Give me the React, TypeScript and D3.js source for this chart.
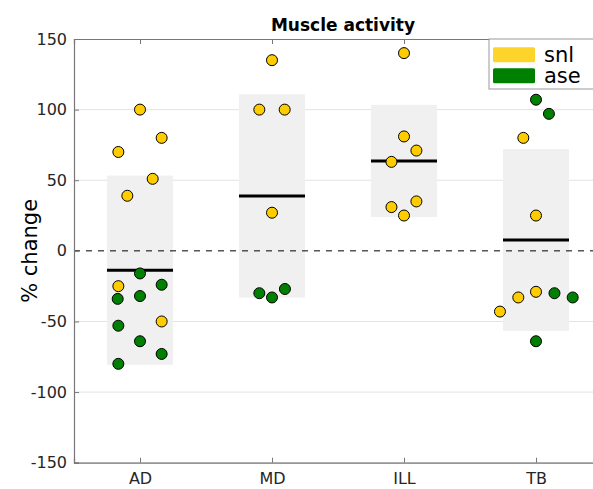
import React, { useEffect, useRef } from 'react';
import * as d3 from 'd3';

// muscles on the x axis
const categories = ['AD', 'MD', 'ILL', 'TB'];

// group mean and spread (box = mean +/- sd)
const means = [-13.7, 38.9, 63.7, 7.7];
const sds = [67, 72, 39.7, 64.4];

// individual subjects, per muscle
const snlValues = [
  [100, 80, 70, 51, 39, -25, -50],
  [135, 100, 100, 27],
  [140, 81, 71, 63, 35, 31, 25],
  [80, 25, -29, -33, -43],
];
const snlJitter = [
  [0, 0.164, -0.164, 0.096, -0.096, -0.164, 0.164],
  [0, -0.096, 0.096, 0],
  [0, 0, 0.094, -0.095, 0.094, -0.095, 0],
  [-0.096, 0, 0, -0.134, -0.273],
];
const aseValues = [
  [-16, -24, -34, -32, -53, -64, -73, -80],
  [-30, -33, -27],
  [],
  [107, 97, -30, -33, -64],
];
const aseJitter = [
  [0, 0.164, -0.169, 0, -0.164, 0, 0.164, -0.164],
  [-0.096, 0, 0.098],
  [],
  [0, 0.098, 0.14, 0.278, 0],
];

const seriesNames = ['snl', 'ase'];
const yTicks = [-150, -100, -50, 0, 50, 100, 150];

function App() {
  const ref = useRef<SVGSVGElement>(null);

  useEffect(() => {
    const width = 593, height = 489;
    const left = 74, top = 39, right = 602, bottom = 462.7;
    const font = 'DejaVu Sans, Verdana, sans-serif';

    const svg = d3.select(ref.current);
    svg.selectAll('*').remove();

    const x = d3.scaleLinear().domain([0.5, 4.5]).range([left, right]);
    const y = d3.scaleLinear().domain([-150, 150]).range([bottom, top]);
    const color = d3.scaleOrdinal<string>().domain(seriesNames).range(['#ffcc00', '#008000']);

    // grid
    svg.append('g')
      .selectAll('line')
      .data(yTicks.filter(t => t !== 0 && t !== 150))
      .enter().append('line')
      .attr('x1', left).attr('x2', right)
      .attr('y1', d => y(d)).attr('y2', d => y(d))
      .attr('stroke', '#e3e3e3').attr('stroke-width', 1);

    // sd boxes
    svg.append('g')
      .selectAll('rect')
      .data(categories)
      .enter().append('rect')
      .attr('x', (d, i) => x(i + 1 - 0.25))
      .attr('width', x(1.25) - x(0.75))
      .attr('y', (d, i) => y(means[i] + sds[i]))
      .attr('height', (d, i) => y(means[i] - sds[i]) - y(means[i] + sds[i]))
      .attr('fill', '#f0f0f0');

    // zero line
    svg.append('line')
      .attr('x1', left).attr('x2', right)
      .attr('y1', y(0)).attr('y2', y(0))
      .attr('stroke', '#000').attr('stroke-width', 1)
      .attr('stroke-dasharray', '6,6');

    // means
    svg.append('g')
      .selectAll('line')
      .data(categories)
      .enter().append('line')
      .attr('x1', (d, i) => x(i + 1 - 0.25))
      .attr('x2', (d, i) => x(i + 1 + 0.25))
      .attr('y1', (d, i) => y(means[i])).attr('y2', (d, i) => y(means[i]))
      .attr('stroke', '#000').attr('stroke-width', 3);

    // axes
    const yAxis = d3.axisLeft(y).tickValues(yTicks).tickFormat(d => String(d)).tickSize(-5).tickPadding(7);
    const gy = svg.append('g').attr('transform', `translate(${left},0)`).call(yAxis);
    const xAxis = d3.axisBottom(x).tickValues([1, 2, 3, 4])
      .tickFormat(d => categories[(d as number) - 1]).tickSize(-5).tickPadding(10);
    const gx = svg.append('g').attr('transform', `translate(0,${bottom})`).call(xAxis);
    const xTop = d3.axisTop(x).tickValues([1, 2, 3, 4]).tickFormat(() => '').tickSize(-5);
    const gt = svg.append('g').attr('transform', `translate(0,${top})`).call(xTop);
    [gy, gx, gt].forEach(g => {
      g.select('.domain').attr('stroke', '#777').attr('stroke-width', 1.2);
      g.selectAll('.tick line').attr('stroke', '#777');
      g.selectAll('.tick text').attr('fill', '#262626')
        .style('font-family', font).style('font-size', '16px');
    });

    // points
    const pts: { v: number; c: number; j: number; s: string }[] = [];
    snlValues.forEach((vals, c) => vals.forEach((v, k) => pts.push({ v, c, j: snlJitter[c][k], s: 'snl' })));
    aseValues.forEach((vals, c) => vals.forEach((v, k) => pts.push({ v, c, j: aseJitter[c][k], s: 'ase' })));
    svg.append('g')
      .selectAll('circle')
      .data(pts)
      .enter().append('circle')
      .attr('cx', d => x(d.c + 1 + d.j))
      .attr('cy', d => y(d.v))
      .attr('r', 5.5)
      .attr('fill', d => color(d.s))
      .attr('stroke', '#000').attr('stroke-width', 1);

    // legend
    const lg = svg.append('g');
    lg.append('rect')
      .attr('x', 489).attr('y', top).attr('width', 130).attr('height', 50)
      .attr('fill', '#fff').attr('stroke', '#999');
    const item = lg.selectAll('g.item')
      .data(seriesNames)
      .enter().append('g')
      .attr('transform', (d, i) => `translate(493,${47.3 + i * 21})`);
    item.append('rect')
      .attr('width', 42).attr('height', 15).attr('rx', 1.5)
      .attr('fill', (d, i) => (i === 0 ? '#ffd42a' : '#008000'));
    item.append('text')
      .attr('x', 51).attr('y', 15)
      .style('font-family', font).style('font-size', '21px')
      .attr('fill', '#000')
      .text(d => d);

    // title and y label
    svg.append('text')
      .attr('x', (left + right) / 2 + 5).attr('y', 31)
      .attr('text-anchor', 'middle')
      .style('font-family', font).style('font-size', '17px').style('font-weight', 'bold')
      .text('Muscle activity');

    svg.append('text')
      .attr('transform', `translate(37,${y(0)}) rotate(-90)`)
      .attr('text-anchor', 'middle')
      .style('font-family', font).style('font-size', '21px')
      .attr('fill', '#000')
      .text('% change');

    svg.attr('width', width).attr('height', height);
  }, []);

  return (
    <svg ref={ref} width={593} height={489}
      style={{ position: 'absolute', left: 0, top: 0, background: '#fff' }} />
  );
}

export default App;
